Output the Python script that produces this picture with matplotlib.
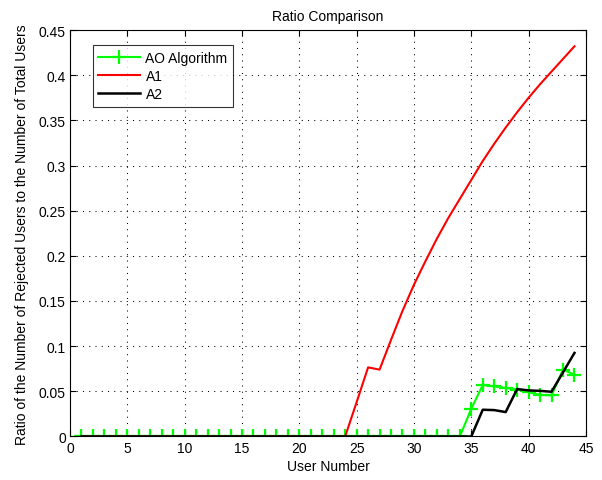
import numpy as np
import matplotlib
matplotlib.use('Agg')
import matplotlib.pyplot as plt
from matplotlib.ticker import FormatStrFormatter, MultipleLocator

plt.rcParams['font.family'] = ['Liberation Sans', 'DejaVu Sans']

# user numbers 1..44
users = np.arange(1, 45)

# AO Algorithm (green, + markers)
ao_vals = [0.0] * 34 + [0.0307, 0.057, 0.0555, 0.0537, 0.052, 0.049,
                        0.046, 0.0455, 0.074, 0.0685]

# A1 (red)
a1_vals = [0.0] * 24 + [0.038, 0.0765, 0.074, 0.107, 0.139, 0.168, 0.194,
                        0.219, 0.242, 0.263, 0.284, 0.305, 0.324, 0.342,
                        0.359, 0.375, 0.39, 0.404, 0.418, 0.432]

# A2 (black)
a2_vals = [0.0] * 35 + [0.0296, 0.0292, 0.027, 0.0525, 0.051, 0.0505,
                        0.0495, 0.071, 0.0925]

fig = plt.figure(figsize=(6.02, 4.81), dpi=100)
ax = fig.add_axes([0.1163, 0.0905, 0.857, 0.845])

ax.plot(users, ao_vals, color=(0, 1, 0), lw=1.5, marker='+', ms=10,
        mew=1.6, label='AO Algorithm')
ax.plot(users, a1_vals, color='red', lw=1.5, label='A1')
ax.plot(users, a2_vals, color='black', lw=1.8, label='A2')

ax.set_xlim(0, 45)
ax.set_ylim(0, 0.45)
ax.xaxis.set_major_locator(MultipleLocator(5))
ax.yaxis.set_major_locator(MultipleLocator(0.05))
ax.yaxis.set_major_formatter(FormatStrFormatter('%g'))
ax.xaxis.set_major_formatter(FormatStrFormatter('%g'))

ax.tick_params(direction='in', top=True, right=True, length=4, width=0.8,
               labelsize=10, pad=3)
ax.grid(True, color='black', linestyle=(0, (1, 5)), linewidth=0.75)
for s in ax.spines.values():
    s.set_linewidth(0.8)

ax.set_title('Ratio Comparison', fontsize=10, pad=7)
ax.set_xlabel('User Number', fontsize=10, labelpad=3)
ax.set_ylabel('Ratio of the Number of Rejected Users to the Number of Total Users',
              fontsize=10, labelpad=7)

leg = ax.legend(loc='upper left', bbox_to_anchor=(0.044, 0.962), fontsize=10,
                frameon=True, fancybox=False, edgecolor='black',
                handlelength=3.0, borderpad=0.4, labelspacing=0.3,
                handletextpad=0.4, borderaxespad=0)
leg.get_frame().set_linewidth(0.8)

fig.savefig('out.png', dpi=100)
